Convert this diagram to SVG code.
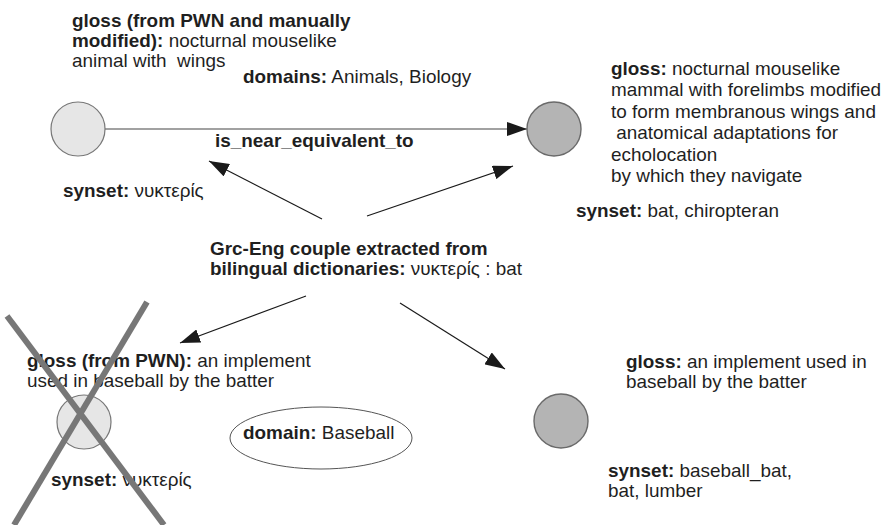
<svg xmlns="http://www.w3.org/2000/svg" width="887" height="525" viewBox="0 0 887 525">
  <defs>
    <marker id="arrow" markerUnits="userSpaceOnUse" markerWidth="21" markerHeight="14" refX="20" refY="7" orient="auto">
      <path d="M0,0 L20,7 L0,14 z" fill="#1a1a1a"/>
    </marker>
    <style>
      text { font-family: "Liberation Sans", Arial, sans-serif; font-size: 17.6px; fill: #1f1f1f; }
      .b { font-weight: bold; }
      .light { fill: #e6e6e6; stroke: #777; stroke-width: 1.2; }
      .dark { fill: #b4b4b4; stroke: #6a6a6a; stroke-width: 1.4; }
      .edge { stroke: #1a1a1a; stroke-width: 1.2; fill: none; marker-end: url(#arrow); }
      .cross { stroke: #777; stroke-width: 6; fill: none; }
      .domain { fill: #fff; stroke: #555; stroke-width: 1; }
    </style>
  </defs>

  <rect width="887" height="525" fill="#fff"/>

  <!-- connectors -->
  <g id="connectors">
    <line class="edge" x1="105" y1="129" x2="527" y2="129" style="stroke:#444"/>
    <line class="edge" x1="322" y1="219" x2="209" y2="161"/>
    <line class="edge" x1="367" y1="216" x2="513" y2="166"/>
    <line class="edge" x1="306" y1="296" x2="180" y2="343"/>
    <line class="edge" x1="400" y1="303" x2="505" y2="369"/>
  </g>

  <!-- Greek synset (upper left) -->
  <g id="grc-bat">
    <circle class="light" cx="78" cy="129" r="27"/>
    <g transform="translate(72,27) scale(1.075,1)">
      <text xml:space="preserve"><tspan class="b" x="0">gloss (from PWN and manually</tspan><tspan class="b" x="0" dy="20">modified):</tspan><tspan> nocturnal mouselike</tspan><tspan x="0" dy="20">animal with  wings</tspan></text>
    </g>
    <g transform="translate(63,197) scale(1.075,1)">
      <text><tspan class="b">synset:</tspan> νυκτερίς</text>
    </g>
  </g>

  <g id="domains-label">
    <g transform="translate(243,83) scale(1.075,1)">
      <text><tspan class="b">domains:</tspan> Animals, Biology</text>
    </g>
  </g>

  <g id="relation-label">
    <g transform="translate(215,147) scale(1.075,1)">
      <text class="b">is_near_equivalent_to</text>
    </g>
  </g>

  <!-- English synset (upper right) -->
  <g id="eng-bat">
    <circle class="dark" cx="554" cy="129" r="27"/>
    <g transform="translate(611,75) scale(1.075,1)">
      <text xml:space="preserve"><tspan class="b" x="0">gloss:</tspan><tspan> nocturnal mouselike</tspan><tspan x="0" dy="21.4">mammal with forelimbs modified</tspan><tspan x="0" dy="21.4">to form membranous wings and</tspan><tspan x="0" dy="21.4"> anatomical adaptations for</tspan><tspan x="0" dy="21.4">echolocation</tspan><tspan x="0" dy="21.4">by which they navigate</tspan></text>
    </g>
    <g transform="translate(576,217) scale(1.075,1)">
      <text><tspan class="b">synset:</tspan> bat, chiropteran</text>
    </g>
  </g>

  <!-- dictionary pair -->
  <g id="dictionary-pair">
    <g transform="translate(210,255) scale(1.075,1)">
      <text><tspan class="b" x="0">Grc-Eng couple extracted from</tspan><tspan class="b" x="0" dy="20.5">bilingual dictionaries:</tspan><tspan> νυκτερίς : bat</tspan></text>
    </g>
  </g>

  <!-- rejected Greek synset (lower left) -->
  <g id="grc-bat-rejected">
    <circle class="light" cx="84" cy="422" r="27"/>
    <g transform="translate(27,367) scale(1.075,1)">
      <text><tspan class="b" x="0">gloss (from PWN):</tspan><tspan> an implement</tspan><tspan x="0" dy="20">used in baseball by the batter</tspan></text>
    </g>
    <g transform="translate(51,486) scale(1.075,1)">
      <text><tspan class="b">synset:</tspan> νυκτερίς</text>
    </g>
  </g>

  <g id="domain-baseball">
    <ellipse class="domain" cx="321" cy="438" rx="91" ry="31"/>
    <g transform="translate(243,439) scale(1.075,1)">
      <text><tspan class="b">domain:</tspan> Baseball</text>
    </g>
  </g>

  <!-- English synset (lower right) -->
  <g id="eng-baseball-bat">
    <circle class="dark" cx="561" cy="421" r="27"/>
    <g transform="translate(626,368) scale(1.075,1)">
      <text><tspan class="b" x="0">gloss:</tspan><tspan> an implement used in</tspan><tspan x="0" dy="20.5">baseball by the batter</tspan></text>
    </g>
    <g transform="translate(608,477) scale(1.075,1)">
      <text><tspan class="b" x="0">synset:</tspan><tspan> baseball_bat,</tspan><tspan x="0" dy="20">bat, lumber</tspan></text>
    </g>
  </g>

  <!-- strike-out over the rejected synset -->
  <g id="strike">
    <line class="cross" x1="7" y1="316" x2="164" y2="525"/>
    <line class="cross" x1="147" y1="302" x2="14" y2="525"/>
  </g>
</svg>
